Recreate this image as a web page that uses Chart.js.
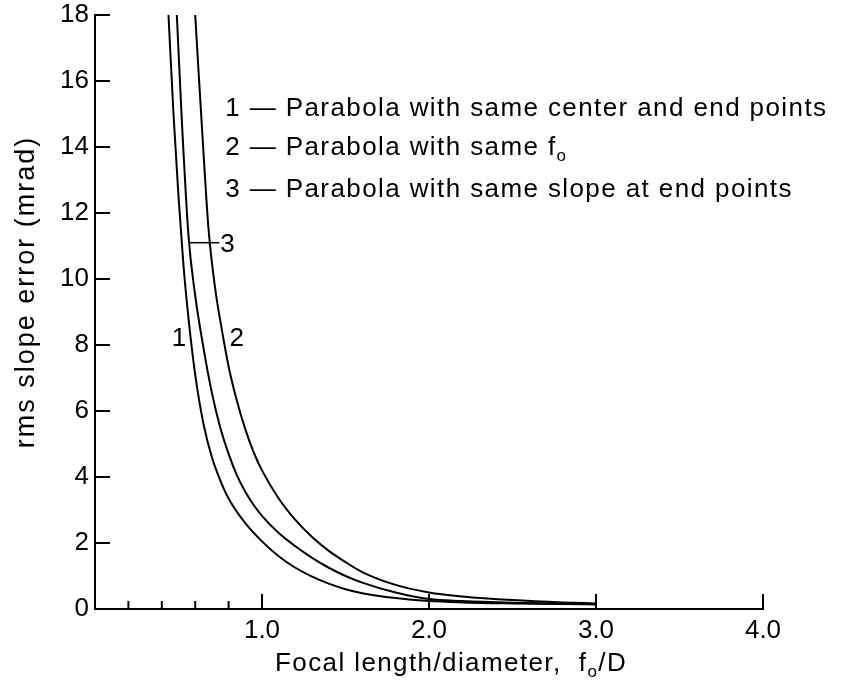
<!DOCTYPE html>
<html>
<head>
<meta charset="utf-8">
<script src="https://cdn.jsdelivr.net/npm/chart.js@4"></script>
<style>
  body { margin: 0; background: #fff; }
  #wrap { width: 848px; height: 682px; }
</style>
</head>
<body>
<div id="wrap"><canvas id="chart"></canvas></div>
<script>
// curve 1 - parabola with same center and end points
const curve1X = [0.44, 0.47, 0.50, 0.53, 0.56, 0.60, 0.65, 0.70, 0.75, 0.80, 0.90, 1.00, 1.10, 1.20, 1.30, 1.40, 1.50, 1.60, 1.80, 2.00, 2.20, 2.50, 2.80, 3.00];
const curve1Y = [18.0, 15.0, 12.5, 10.4, 8.8, 7.1, 5.6, 4.6, 3.9, 3.35, 2.6, 2.05, 1.6, 1.25, 0.98, 0.77, 0.6, 0.48, 0.33, 0.24, 0.2, 0.17, 0.15, 0.14];

// curve 2 - parabola with same fo
const curve2X = [0.60, 0.62, 0.65, 0.68, 0.72, 0.76, 0.80, 0.85, 0.90, 0.95, 1.00, 1.10, 1.20, 1.30, 1.40, 1.50, 1.60, 1.80, 2.00, 2.20, 2.50, 2.80, 3.00];
const curve2Y = [18.0, 16.3, 13.8, 11.5, 9.7, 8.45, 7.35, 6.3, 5.45, 4.75, 4.2, 3.35, 2.7, 2.18, 1.76, 1.42, 1.12, 0.73, 0.5, 0.38, 0.27, 0.2, 0.17];

// curve 3 - parabola with same slope at end points
const curve3X = [0.49, 0.52, 0.56, 0.60, 0.65, 0.70, 0.75, 0.80, 0.85, 0.90, 0.95, 1.00, 1.10, 1.20, 1.30, 1.40, 1.50, 1.60, 1.80, 2.00, 2.20, 2.50, 2.80, 3.00];
const curve3Y = [18.0, 14.8, 11.3, 9.5, 7.9, 6.55, 5.5, 4.7, 4.05, 3.55, 3.15, 2.82, 2.3, 1.9, 1.55, 1.25, 1.0, 0.8, 0.5, 0.3, 0.24, 0.19, 0.16, 0.15];

// axes
const yTickValues = [0, 2, 4, 6, 8, 10, 12, 14, 16, 18];
const xMajorTicks = [1, 2, 3, 4];
const xTickLabels = ['1.0', '2.0', '3.0', '4.0'];
const xMinorTicks = [0.2, 0.4, 0.6, 0.8];

const FONT = '"Liberation Sans", Arial, sans-serif';

function pts(xs, ys) {
  return xs.map((x, i) => ({ x: x, y: ys[i] }));
}

function curve(xs, ys) {
  return {
    data: pts(xs, ys),
    borderColor: '#000',
    borderWidth: 2,
    pointRadius: 0,
    fill: false,
    cubicInterpolationMode: 'monotone'
  };
}

// draws text pieces, some of them as subscripts
function textRun(ctx, parts, x, y) {
  parts.forEach(p => {
    if (p.sub) {
      ctx.font = '17px ' + FONT;
      ctx.fillText(p.t, x, y + 6);
    } else {
      ctx.font = '26px ' + FONT;
      ctx.fillText(p.t, x, y);
    }
    x += ctx.measureText(p.t).width;
  });
}

const overlay = {
  id: 'overlay',
  afterDraw(chart) {
    const ctx = chart.ctx;
    const xs = chart.scales.x, ys = chart.scales.y;
    const X = v => xs.getPixelForValue(v);
    const Y = v => ys.getPixelForValue(v);
    const line = (x1, y1, x2, y2) => {
      ctx.beginPath(); ctx.moveTo(x1, y1); ctx.lineTo(x2, y2); ctx.stroke();
    };

    ctx.save();
    ctx.strokeStyle = '#000';
    ctx.lineWidth = 2;

    // inward tick marks
    yTickValues.forEach(v => { if (v > 0) line(X(0), Y(v), X(0) + 15, Y(v)); });
    xMinorTicks.forEach(v => line(X(v), Y(0), X(v), Y(0) - 8));
    xMajorTicks.forEach(v => line(X(v), Y(0), X(v), Y(0) - 15));

    // leader line for label 3
    ctx.lineWidth = 1.5;
    line(X(0.563), Y(11.1), X(0.745), Y(11.1));

    ctx.fillStyle = '#000';
    ctx.letterSpacing = '1.4px';
    ctx.textBaseline = 'alphabetic';
    ctx.textAlign = 'left';

    // curve labels
    ctx.font = '26px ' + FONT;
    ctx.fillText('1', X(0.46), Y(7.98));
    ctx.fillText('2', X(0.805), Y(7.98));
    ctx.fillText('3', X(0.75), Y(10.82));

    // key text
    textRun(ctx, [{ t: '1 \u2014 Parabola with same center and end points' }], X(0.78), Y(14.95));
    textRun(ctx, [{ t: '2 \u2014 Parabola with same f' }, { t: 'o', sub: true }], X(0.78), Y(13.75));
    textRun(ctx, [{ t: '3 \u2014 Parabola with same slope at end points' }], X(0.78), Y(12.48));

    // x axis title
    textRun(ctx, [{ t: 'Focal length/diameter,  f' }, { t: 'o', sub: true }, { t: '/D' }], 275, 671);

    // y axis title
    ctx.save();
    ctx.translate(34, 292);
    ctx.rotate(-Math.PI / 2);
    ctx.textAlign = 'center';
    ctx.letterSpacing = '2px';
    ctx.font = '27px ' + FONT;
    ctx.fillText('rms slope error (mrad)', 0, 0);
    ctx.restore();

    ctx.restore();
  }
};

new Chart(document.getElementById('chart'), {
  type: 'line',
  data: {
    datasets: [
      curve(curve1X, curve1Y),
      curve(curve2X, curve2Y),
      curve(curve3X, curve3Y)
    ]
  },
  options: {
    responsive: true,
    maintainAspectRatio: false,
    animation: false,
    layout: { autoPadding: false, padding: { left: 0, top: 15, right: 85, bottom: 0 } },
    plugins: { legend: { display: false }, tooltip: { enabled: false } },
    scales: {
      x: {
        type: 'linear',
        min: 0,
        max: 4,
        afterBuildTicks: s => { s.ticks = xMajorTicks.map(v => ({ value: v })); },
        afterFit: s => { s.height = 73; s.paddingLeft = 0; s.paddingRight = 0; },
        ticks: {
          callback: (v, i) => xTickLabels[i],
          font: { family: FONT, size: 26 },
          color: '#000',
          padding: 6,
          maxRotation: 0,
          autoSkip: false
        },
        grid: { display: false, drawTicks: false },
        border: { display: true, color: '#000', width: 2 }
      },
      y: {
        type: 'linear',
        min: 0,
        max: 18,
        afterBuildTicks: s => { s.ticks = yTickValues.map(v => ({ value: v })); },
        afterFit: s => { s.width = 95; s.paddingTop = 0; s.paddingBottom = 0; },
        ticks: {
          font: { family: FONT, size: 26 },
          color: '#000',
          padding: 6,
          autoSkip: false
        },
        grid: { display: false, drawTicks: false },
        border: { display: true, color: '#000', width: 2 }
      }
    }
  },
  plugins: [overlay]
});
</script>
</body>
</html>
